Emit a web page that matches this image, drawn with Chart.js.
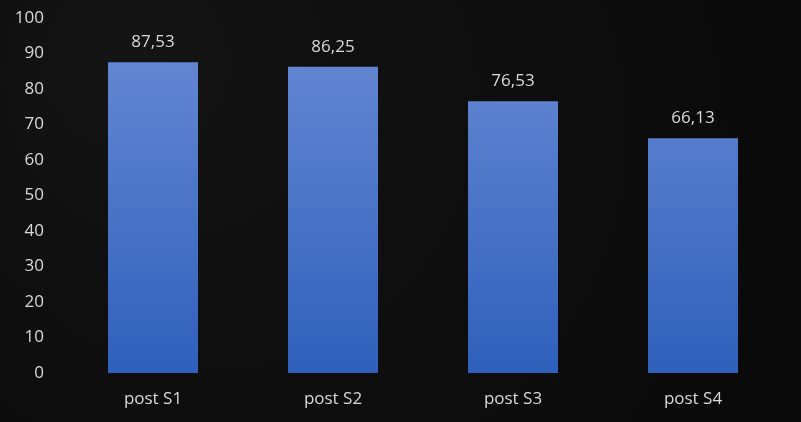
<!DOCTYPE html>
<html>
<head>
<meta charset="utf-8">
<script src="https://cdn.jsdelivr.net/npm/chart.js@4/dist/chart.umd.min.js"></script>
<style>
  html, body { margin: 0; padding: 0; background: #0c0c0c; }
  #wrap { width: 801px; height: 422px; }
</style>
</head>
<body>
<div id="wrap"><canvas id="chart" width="801" height="422"></canvas></div>
<script>
// values
const categories = ["post S1", "post S2", "post S3", "post S4"];
const scores = [87.53, 86.25, 76.53, 66.13];
const yTicks = [0, 10, 20, 30, 40, 50, 60, 70, 80, 90, 100];

const textColor = "#d9d9d9";
const fontFamily = "'Open Sans', 'Noto Sans', sans-serif";

// dark background behind everything
const backgroundPlugin = {
  id: "bg",
  beforeDraw(chart) {
    const c = chart.ctx;
    const g = c.createRadialGradient(100, 40, 10, 400, 211, 700);
    g.addColorStop(0, "#141414");
    g.addColorStop(1, "#050505");
    c.save();
    c.fillStyle = g;
    c.fillRect(0, 0, chart.width, chart.height);
    c.restore();
  }
};

// value labels above each bar
const valueLabels = {
  id: "valueLabels",
  afterDatasetsDraw(chart) {
    const c = chart.ctx;
    const meta = chart.getDatasetMeta(0);
    c.save();
    c.fillStyle = textColor;
    c.font = "17px " + fontFamily;
    c.textAlign = "center";
    c.textBaseline = "middle";
    meta.data.forEach((bar, i) => {
      c.fillText(scores[i].toFixed(2).replace(".", ","), bar.x, bar.y - 20);
    });
    c.restore();
  }
};

const ctx = document.getElementById("chart").getContext("2d");

new Chart(ctx, {
  type: "bar",
  data: {
    labels: categories,
    datasets: [{
      data: scores,
      backgroundColor: (context) => {
        const area = context.chart.chartArea;
        if (!area) return "#4472c4";
        const g = context.chart.ctx.createLinearGradient(0, area.top, 0, area.bottom);
        g.addColorStop(0, "#6a8bd5");
        g.addColorStop(1, "#2f60bb");
        return g;
      },
      categoryPercentage: 1,
      barPercentage: 0.5
    }]
  },
  options: {
    responsive: false,
    animation: false,
    layout: { padding: { top: 18, right: 18, left: 0, bottom: 0 } },
    plugins: {
      legend: { display: false },
      tooltip: { enabled: false }
    },
    scales: {
      x: {
        grid: { display: false, drawTicks: false },
        border: { display: false },
        ticks: { color: textColor, font: { family: fontFamily, size: 17 }, padding: 16 },
        afterFit(scale) {
          scale.height = 49;
          scale.paddingLeft = 0;
          scale.paddingRight = 0;
        }
      },
      y: {
        min: 0,
        max: 100,
        grid: { display: false, drawTicks: false },
        border: { display: false },
        afterBuildTicks(scale) { scale.ticks = yTicks.map(v => ({ value: v })); },
        ticks: { color: textColor, font: { family: fontFamily, size: 17 }, padding: 19 },
        afterFit(scale) {
          scale.width = 63;
          scale.paddingTop = 0;
          scale.paddingBottom = 0;
        }
      }
    }
  },
  plugins: [backgroundPlugin, valueLabels]
});
</script>
</body>
</html>
